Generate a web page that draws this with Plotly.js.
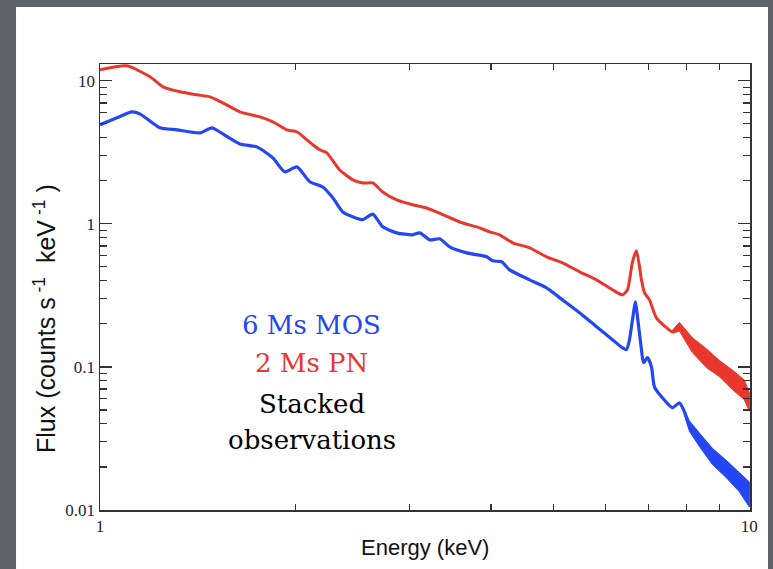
<!DOCTYPE html>
<html>
<head>
<meta charset="utf-8">
<script src="https://cdn.plot.ly/plotly-3.0.1.min.js"></script>
<style>html,body{margin:0;padding:0;background:#5f636d;}#chart{width:773px;height:569px;}</style>
</head>
<body>
<div id="chart"></div>
<script>
// ---- data ----
const pnEnergy = [1.000,1.100,1.194,1.250,1.328,1.410,1.476,1.546,1.642,1.763,1.846,1.939,2.010,2.083,2.127,2.180,2.235,2.340,2.451,2.539,2.630,2.725,2.863,3.030,3.185,3.371,3.580,3.842,3.981,4.125,4.319,4.588,4.872,5.156,5.476,5.815,6.154,6.377,6.491,6.607,6.702,6.821,6.894,7.017,7.193,7.452,7.612,7.803,7.999,8.171,8.587,8.992,9.416,9.755,9.929];
const pnFlux   = [11.92,12.71,10.65,9.07,8.37,7.97,7.72,7.01,6.06,5.59,5.16,4.54,4.40,3.86,3.57,3.29,3.13,2.38,2.03,1.93,1.93,1.67,1.47,1.36,1.29,1.16,1.03,0.937,0.879,0.838,0.737,0.680,0.588,0.534,0.462,0.406,0.346,0.319,0.346,0.543,0.648,0.406,0.330,0.294,0.220,0.188,0.176,0.191,0.168,0.143,0.116,0.0954,0.0774,0.0659,0.0561];

const mosEnergy = [1.000,1.062,1.120,1.152,1.237,1.314,1.425,1.487,1.546,1.642,1.744,1.846,1.925,2.010,2.104,2.203,2.283,2.365,2.451,2.539,2.630,2.725,2.863,3.030,3.107,3.219,3.335,3.455,3.670,3.883,3.940,4.024,4.154,4.274,4.588,4.872,5.156,5.476,5.815,6.154,6.377,6.468,6.537,6.607,6.678,6.725,6.821,6.870,6.968,7.067,7.142,7.347,7.612,7.803,7.943,8.085,8.377,8.771,9.218,9.652,9.929];
const mosFlux   = [4.92,5.51,6.06,5.87,4.69,4.54,4.32,4.69,4.25,3.62,3.45,2.89,2.31,2.50,1.97,1.81,1.52,1.21,1.12,1.07,1.17,0.953,0.865,0.838,0.865,0.773,0.786,0.691,0.627,0.598,0.588,0.551,0.543,0.477,0.406,0.357,0.294,0.239,0.191,0.155,0.136,0.132,0.155,0.213,0.285,0.224,0.132,0.107,0.116,0.100,0.0726,0.0608,0.0518,0.0561,0.0486,0.0382,0.0310,0.0235,0.0191,0.0155,0.0124];

// scatter envelope of the noisy high-energy tails
const pnTailEnergy = [7.612,7.803,8.171,8.587,8.992,9.416,9.825,10.0];
const pnTailHigh   = [0.180,0.205,0.160,0.134,0.111,0.0950,0.0810,0.0660];
const pnTailLow    = [0.172,0.178,0.126,0.0990,0.0855,0.0695,0.0590,0.0490];
const mosTailEnergy = [7.943,8.085,8.377,8.771,9.218,9.652,10.0];
const mosTailHigh   = [0.0500,0.0420,0.0345,0.0270,0.0222,0.0184,0.0157];
const mosTailLow    = [0.0472,0.0355,0.0278,0.0208,0.0168,0.0134,0.0105];

const xTickVals = [1,10];
const xTickText = ['1','10'];
const xMinorVals = [2,3,4,5,6,7,8,9];
const yTickVals = [0.01,0.1,1,10];
const yTickText = ['0.01','0.1','1','10'];
const yMinorVals = [0.02,0.03,0.04,0.05,0.06,0.07,0.08,0.09,0.2,0.3,0.4,0.5,0.6,0.7,0.8,0.9,2,3,4,5,6,7,8,9];

const RED = '#e8372c';
const BLUE = '#2447f2';

function band(xs, hi, lo, color){
  return {
    x: xs.concat(xs.slice().reverse()),
    y: hi.concat(lo.slice().reverse()),
    mode: 'lines', fill: 'toself', fillcolor: color,
    line: {width: 1, color: color}, hoverinfo: 'skip', showlegend: false
  };
}

const traces = [
  band(pnTailEnergy, pnTailHigh, pnTailLow, RED),
  band(mosTailEnergy, mosTailHigh, mosTailLow, BLUE),
  {x: pnEnergy, y: pnFlux, mode: 'lines', line: {color: RED, width: 3, shape: 'spline', smoothing: 0.6}, showlegend: false, hoverinfo: 'skip'},
  {x: mosEnergy, y: mosFlux, mode: 'lines', line: {color: BLUE, width: 3.2, shape: 'spline', smoothing: 0.6}, showlegend: false, hoverinfo: 'skip'}
];

const axisCommon = {
  type: 'log', showgrid: false, zeroline: false,
  showline: true, linecolor: '#333', linewidth: 1.5, mirror: 'allticks',
  ticks: 'inside', tickcolor: '#333', tickwidth: 1.2, ticklen: 12,
  tickmode: 'array',
  tickfont: {family: 'Liberation Serif, serif', size: 17, color: '#1e2235'}
};

const TITLE_FONT = {family: 'Liberation Sans, Arial, sans-serif', size: 22, color: '#111'};

const layout = {
  width: 773, height: 569,
  margin: {l: 100, r: 23, t: 64, b: 59},
  paper_bgcolor: '#5f636d',
  plot_bgcolor: '#ffffff',
  xaxis: Object.assign({}, axisCommon, {
    range: [0, 1.001], tickvals: xTickVals, ticktext: xTickText,
    minor: {tickmode: 'array', tickvals: xMinorVals, ticks: 'inside', ticklen: 6, tickcolor: '#333', tickwidth: 1.2}
  }),
  yaxis: Object.assign({}, axisCommon, {
    range: [-2, 1.117], tickvals: yTickVals, ticktext: yTickText,
    minor: {tickmode: 'array', tickvals: yMinorVals, ticks: 'inside', ticklen: 7, tickcolor: '#333', tickwidth: 1.2}
  }),
  shapes: [
    {type: 'rect', xref: 'paper', yref: 'paper', x0: -0.1292, x1: 1.0277, y0: -0.2, y1: 1.1278,
     fillcolor: '#ffffff', line: {width: 0}, layer: 'below'}
  ],
  annotations: [
    {text: '6 Ms MOS', font: {color: BLUE}},
    {text: '2 Ms PN', font: {color: RED}},
    {text: 'Stacked', font: {color: '#000'}},
    {text: 'observations', font: {color: '#000'}}
  ].map((a, i) => ({
    xref: 'paper', yref: 'paper', x: 0.326, y: [0.415, 0.330, 0.237, 0.158][i],
    xanchor: 'center', yanchor: 'middle', showarrow: false, text: a.text,
    font: {family: 'DejaVu Serif, serif', size: 26, color: a.font.color}
  })).concat([
    {xref: 'paper', yref: 'paper', x: 0.5, y: -0.085, xanchor: 'center', yanchor: 'middle',
     showarrow: false, text: 'Energy (keV)', font: TITLE_FONT},
    {xref: 'paper', yref: 'paper', x: -0.085, y: 0.43, xanchor: 'center', yanchor: 'middle',
     showarrow: false, textangle: -90, text: 'Flux (counts s<sup> -1</sup>  keV<sup> -1</sup> )',
     font: Object.assign({}, TITLE_FONT, {size: 25})}
  ])
};

Plotly.newPlot('chart', traces, layout, {staticPlot: true, displayModeBar: false});
</script>
</body>
</html>
